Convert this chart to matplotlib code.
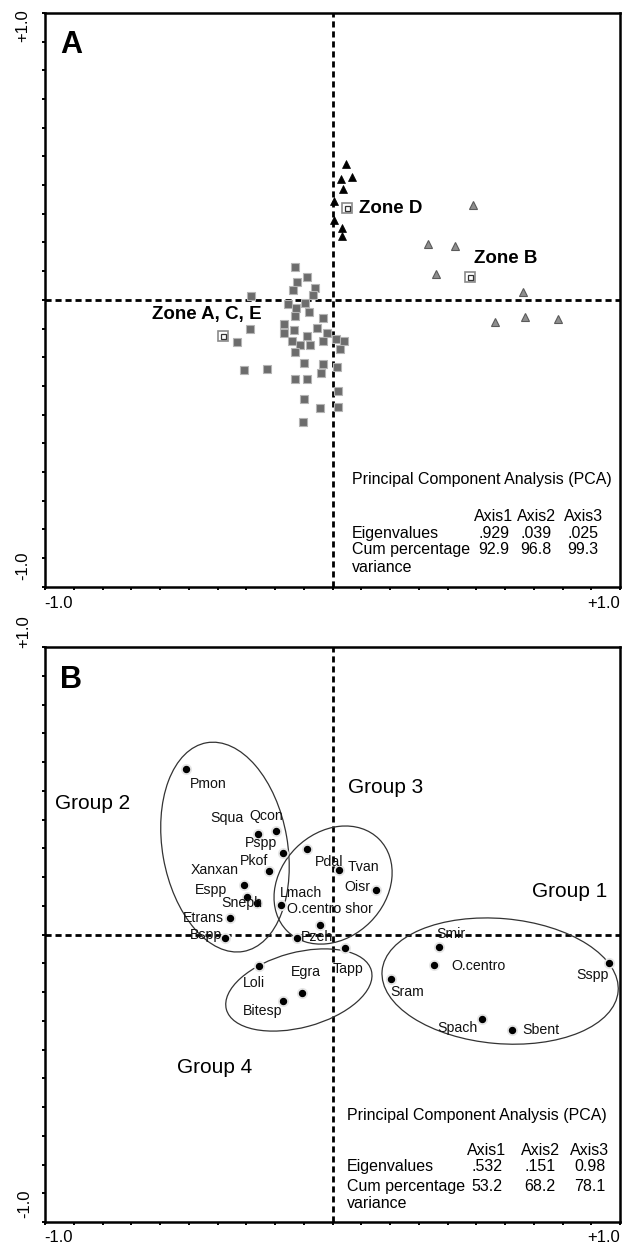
import matplotlib
matplotlib.use("Agg")
import matplotlib.pyplot as plt
from matplotlib.patches import Ellipse
from matplotlib.ticker import MultipleLocator

plt.rcParams['font.family'] = ['Liberation Sans', 'DejaVu Sans']

# ---------------- Panel A data ----------------
zone_ace_x = [-0.129, -0.089, -0.125, -0.061, -0.137, -0.069, -0.285, -0.156, -0.096, -0.127,
              -0.082, -0.130, -0.032, -0.168, -0.135, -0.053, -0.019, -0.288, -0.169, -0.090,
              0.012, 0.039, -0.141, -0.113, -0.079, -0.032, -0.333, 0.026, -0.129, -0.100,
              -0.034, 0.017, -0.309, -0.228, -0.040, -0.129, -0.088, 0.019, -0.098, -0.043,
              0.018, -0.102]
zone_ace_y = [0.115, 0.078, 0.062, 0.040, 0.034, 0.016, 0.014, -0.016, -0.012, -0.030,
              -0.044, -0.058, -0.062, -0.085, -0.105, -0.099, -0.115, -0.102, -0.114, -0.127,
              -0.135, -0.142, -0.145, -0.157, -0.156, -0.142, -0.148, -0.170, -0.183, -0.221,
              -0.223, -0.234, -0.245, -0.240, -0.254, -0.277, -0.277, -0.319, -0.346, -0.377,
              -0.375, -0.426]
zone_d_x = [0.047, 0.030, 0.069, 0.037, 0.006, 0.004, 0.034, 0.032]
zone_d_y = [0.475, 0.422, 0.430, 0.387, 0.343, 0.279, 0.252, 0.221]
zone_b_x = [0.490, 0.332, 0.425, 0.359, 0.663, 0.566, 0.670, 0.784]
zone_b_y = [0.329, 0.194, 0.187, 0.091, 0.029, -0.078, -0.060, -0.067]

centroid_names = ["Zone A, C, E", "Zone D", "Zone B"]
centroid_x = [-0.382, 0.051, 0.478]
centroid_y = [-0.127, 0.320, 0.081]

pca_a_axes = ["Axis1", "Axis2", "Axis3"]
pca_a_eigen = [".929", ".039", ".025"]
pca_a_cum = ["92.9", "96.8", "99.3"]

# ---------------- Panel B data ----------------
species = ["Pmon", "Squa", "Qcon", "Pspp", "Pkof", "Xanxan", "Espp", "Sneph", "Etrans", "Bspp",
           "Pdal", "Tvan", "Oisr", "Lmach", "O.centro shor", "Pzeh", "Tapp", "Loli", "Egra",
           "Bitesp", "Smir", "O.centro", "Sram", "Sspp", "Spach", "Sbent"]
species_x = [-0.510, -0.258, -0.197, -0.171, -0.221, -0.307, -0.297, -0.264, -0.357, -0.374,
             -0.090, 0.021, 0.152, -0.178, -0.043, -0.122, 0.043, -0.256, -0.105,
             -0.171, 0.371, 0.353, 0.202, 0.963, 0.519, 0.624]
species_y = [0.575, 0.350, 0.360, 0.282, 0.221, 0.172, 0.129, 0.109, 0.056, -0.013,
             0.296, 0.224, 0.156, 0.103, 0.033, -0.013, -0.048, -0.109, -0.205,
             -0.230, -0.042, -0.105, -0.155, -0.100, -0.295, -0.333]

group_names = ["Group 1", "Group 2", "Group 3", "Group 4"]
group_cx = [0.583, -0.374, 0.002, -0.117]
group_cy = [-0.162, 0.304, 0.172, -0.193]
group_w = [0.824, 0.435, 0.452, 0.522]
group_h = [0.435, 0.737, 0.365, 0.261]
group_angle = [-5, 10, 45, 15]

pca_b_axes = ["Axis1", "Axis2", "Axis3"]
pca_b_eigen = [".532", ".151", "0.98"]
pca_b_cum = ["53.2", "68.2", "78.1"]

# ---------------- layout / style ----------------
PX = 0.72  # pixel -> points at dpi 100
# label offsets (pixels, dx right, dy down) and horizontal alignment
label_layout = {
    "Pmon": (4, 15, 'left'), "Squa": (-15, -16, 'right'), "Qcon": (-10, -15, 'center'),
    "Pspp": (-6, -10, 'right'), "Pkof": (-1, -10, 'right'), "Xanxan": (-6, -15, 'right'),
    "Espp": (-20, -7, 'right'), "Sneph": (6, 0, 'right'), "Etrans": (-6, 0, 'right'),
    "Bspp": (-3, -3, 'right'), "Pdal": (8, 13, 'left'), "Tvan": (9, -3, 'left'),
    "Oisr": (-6, -3, 'right'), "Lmach": (-1, -12, 'left'), "O.centro shor": (-33, -16, 'left'),
    "Pzeh": (3, -1, 'left'), "Tapp": (3, 21, 'center'), "Loli": (-5, 17, 'center'),
    "Egra": (4, -21, 'center'), "Bitesp": (-1, 10, 'right'), "Smir": (12, -13, 'center'),
    "O.centro": (17, 1, 'left'), "Sram": (0, 13, 'left'), "Sspp": (-1, 12, 'right'),
    "Spach": (-4, 9, 'right'), "Sbent": (10, 0, 'left'),
}
centroid_label_layout = [(39, -22, 'right'), (12, 0, 'left'), (4, -18, 'left')]

W, H = 637, 1245
fig = plt.figure(figsize=(W / 100, H / 100), dpi=100)
fig.patch.set_facecolor('white')

axA = fig.add_axes([45 / W, 1 - 586.7 / H, 575 / W, 573.7 / H])
axB = fig.add_axes([45 / W, 1 - 1222 / H, 575 / W, 575 / H])


def style_axes(ax):
    ax.set_xlim(-1, 1)
    ax.set_ylim(-1, 1)
    for s in ax.spines.values():
        s.set_linewidth(1.8)
        s.set_color('black')
    ax.xaxis.set_major_locator(MultipleLocator(0.1))
    ax.yaxis.set_major_locator(MultipleLocator(0.1))
    ax.tick_params(direction='out', length=2.5, width=1.4, labelbottom=False, labelleft=False,
                   top=False, right=False)
    ax.axhline(0, color='black', lw=2.0, ls=(0, (2.2, 1.4)), zorder=1)
    ax.axvline(0, color='black', lw=2.0, ls=(0, (2.2, 1.4)), zorder=1)


style_axes(axA)
style_axes(axB)

# ---- Panel A ----
axA.plot(zone_ace_x, zone_ace_y, ls='none', marker='s', ms=5.2, mfc='#6c6c6c', mec='#b4b4b4',
         mew=0.8, zorder=3)
axA.plot(zone_d_x, zone_d_y, ls='none', marker='^', ms=5.5, mfc='black', mec='black', mew=0.5,
         zorder=3)
axA.plot(zone_b_x, zone_b_y, ls='none', marker='^', ms=6, mfc='#8e8e8e', mec='#5a5a5a', mew=0.8,
         zorder=3)
axA.plot(centroid_x, centroid_y, ls='none', marker='s', ms=7.5, mfc='white', mec='#8a8a8a',
         mew=1.2, zorder=4)
axA.plot(centroid_x, centroid_y, ls='none', marker='s', ms=3.6, mfc='white', mec='#333333',
         mew=0.9, zorder=5)
for name, x, y, (dx, dy, ha) in zip(centroid_names, centroid_x, centroid_y, centroid_label_layout):
    axA.annotate(name, (x, y), xytext=(dx * PX, -dy * PX), textcoords='offset points',
                 ha=ha, va='center', fontsize=13.5, fontweight='bold')

axA.text(15 / 575, 1 - 17 / 573.7, "A", transform=axA.transAxes, fontsize=22, fontweight='bold',
         ha='left', va='top')


def pca_box(ax, x0, rows, cols, headers, eig, cum):
    fs = 11.5
    ax.text(x0, rows[0], "Principal Component Analysis (PCA)", transform=ax.transAxes,
            fontsize=fs, ha='left', va='center')
    for c, h, e, v in zip(cols, headers, eig, cum):
        ax.text(c, rows[1], h, transform=ax.transAxes, fontsize=fs, ha='center', va='center')
        ax.text(c, rows[2], e, transform=ax.transAxes, fontsize=fs, ha='center', va='center')
        ax.text(c, rows[3], v, transform=ax.transAxes, fontsize=fs, ha='center', va='center')
    ax.text(x0, rows[2], "Eigenvalues", transform=ax.transAxes, fontsize=fs, ha='left', va='center')
    ax.text(x0, rows[3], "Cum percentage", transform=ax.transAxes, fontsize=fs, ha='left',
            va='center')
    ax.text(x0, rows[4], "variance", transform=ax.transAxes, fontsize=fs, ha='left', va='center')


pca_box(axA, 0.5334, [0.186, 0.1215, 0.0936, 0.064, 0.0343], [0.780, 0.854, 0.936],
        pca_a_axes, pca_a_eigen, pca_a_cum)

# ---- Panel B ----
for cx, cy, w, h, a in zip(group_cx, group_cy, group_w, group_h, group_angle):
    axB.add_patch(Ellipse((cx, cy), w, h, angle=a, fill=False, ec='#333333', lw=0.9, zorder=2))

axB.plot(species_x, species_y, ls='none', marker='o', ms=8, mfc='#e6e6e6', mec='none', zorder=3)
axB.plot(species_x, species_y, ls='none', marker='o', ms=4.3, mfc='black', mec='black', zorder=4)
for name, x, y in zip(species, species_x, species_y):
    dx, dy, ha = label_layout[name]
    axB.annotate(name, (x, y), xytext=(dx * PX, -dy * PX), textcoords='offset points',
                 ha=ha, va='center', fontsize=10.2, color='#111111', zorder=5)

group_label_x = [0.694, -0.965, 0.054, -0.541]
group_label_y = [0.151, 0.457, 0.513, -0.464]
for name, x, y in zip(group_names, group_label_x, group_label_y):
    axB.text(x, y, name, fontsize=15, ha='left', va='center')

axB.text(15 / 575, 1 - 18 / 575, "B", transform=axB.transAxes, fontsize=22, fontweight='bold',
         ha='left', va='top')

pca_box(axB, 0.5247, [0.186, 0.125, 0.0957, 0.0626, 0.033], [0.7687, 0.8609, 0.9478],
        pca_b_axes, pca_b_eigen, pca_b_cum)

# ---- outer tick labels ----
def ftxt(x, y, s, **kw):
    fig.text(x / W, 1 - y / H, s, fontsize=12, **kw)


ftxt(23, 26, "+1.0", rotation=90, ha='center', va='center')
ftxt(23, 566, "-1.0", rotation=90, ha='center', va='center')
ftxt(44, 603, "-1.0", ha='left', va='center')
ftxt(620, 603, "+1.0", ha='right', va='center')
ftxt(24, 632, "+1.0", rotation=90, ha='center', va='center')
ftxt(25, 1204, "-1.0", rotation=90, ha='center', va='center')
ftxt(44, 1238, "-1.0", ha='left', va='center')
ftxt(620, 1238, "+1.0", ha='right', va='center')

fig.savefig("out.png", dpi=100, facecolor='white')
